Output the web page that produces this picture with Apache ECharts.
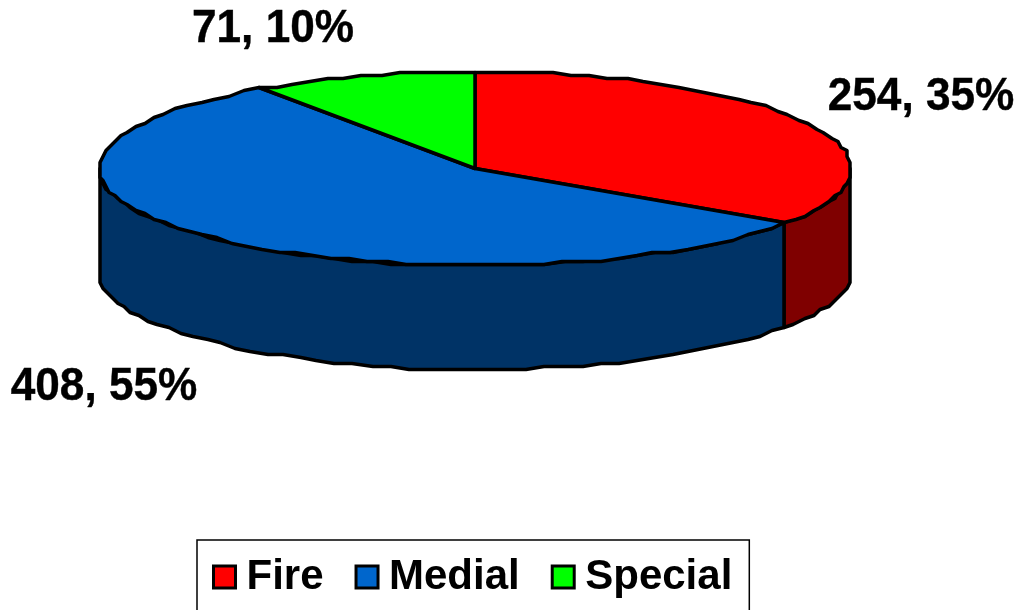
<!DOCTYPE html>
<html>
<head>
<meta charset="utf-8">
<title>Fire Medial Special</title>
<script src="https://cdn.jsdelivr.net/npm/echarts@6/dist/echarts.min.js"></script>
<style>
html, body { margin: 0; padding: 0; background: #fff; }
#chart { width: 1023px; height: 610px; }
</style>
</head>
<body>
<div id="chart"></div>
<script>
const categories = ['Fire', 'Medial', 'Special']
const counts = [254, 408, 71]
const percents = [35, 55, 10]
const topColors = ['#ff0000', '#0066cc', '#00ff00']
const sideColors = ['#7f0000', '#003366', '#007f00']

const total = counts.reduce((a, b) => a + b, 0)

// pie is squashed into an ellipse, angle 0 is 12 o'clock, going clockwise
const cx = 475
const cy = 168.5
const rx = 376
const ry = 97
const depth = 104
const labelPos = [[921, 97], [104, 387], [273, 29]]

const point = (deg, dy = 0) => {
  const a = deg * Math.PI / 180
  // rounding gives the slightly stepped outline of the original
  return [
    cx + Math.round(rx * Math.sin(a) / 3) * 3,
    cy + Math.round((dy - ry * Math.cos(a)) / 3) * 3
  ]
}

const arc = (from, to, dy) => {
  const pts = []
  const n = Math.max(2, Math.ceil((to - from) / 3))
  for (let i = 0; i <= n; i++) {
    pts.push(point(from + (to - from) * i / n, dy))
  }
  return pts
}

const outline = { stroke: '#000', lineWidth: 3.5, lineJoin: 'round' }

const renderSlice = (index) => () => {
  const before = counts.slice(0, index).reduce((a, b) => a + b, 0)
  const from = before / total * 360
  const to = (before + counts[index]) / total * 360
  const children = []

  // wall, only the front half of the rim shows (90deg to 270deg)
  const wallFrom = Math.max(from, 90)
  const wallTo = Math.min(to, 270)
  if (wallFrom < wallTo) {
    const upper = arc(wallFrom, wallTo, 0)
    const lower = arc(wallFrom, wallTo, depth).reverse()
    children.push({
      type: 'polygon',
      shape: { points: upper.concat(lower) },
      style: { fill: sideColors[index], ...outline }
    })
  }

  children.push({
    type: 'polygon',
    shape: { points: [[cx, cy]].concat(arc(from, to, 0)) },
    style: { fill: topColors[index], ...outline }
  })

  children.push({
    type: 'text',
    x: labelPos[index][0],
    y: labelPos[index][1],
    scaleX: 0.96,
    style: {
      text: counts[index] + ', ' + percents[index] + '%',
      fill: '#000',
      stroke: '#000',
      lineWidth: 0.4,
      font: 'bold 46px "Liberation Sans", Arial, sans-serif',
      align: 'center',
      verticalAlign: 'middle'
    }
  })

  return { type: 'group', children }
}

const chart = echarts.init(document.getElementById('chart'), null, { renderer: 'canvas' })

chart.setOption({
  animation: false,
  backgroundColor: '#fff',
  legend: {
    left: 197,
    top: 540,
    icon: 'rect',
    itemWidth: 22,
    itemHeight: 22,
    itemGap: 31,
    padding: [16, 17, 60, 15],
    borderColor: '#000',
    borderWidth: 1.5,
    itemStyle: { borderColor: '#000', borderWidth: 3 },
    textStyle: {
      color: '#000',
      fontFamily: '"Liberation Sans", Arial, sans-serif',
      fontWeight: 'bold',
      fontSize: 42,
      padding: [0, 0, 0, 6]
    },
    data: categories
  },
  // later series sit on top, so Medial's wall covers the seam with Fire
  series: categories.map((name, i) => ({
    type: 'custom',
    name,
    coordinateSystem: 'none',
    itemStyle: { color: topColors[i] },
    data: [counts[i]],
    renderItem: renderSlice(i),
    silent: true
  }))
})

window.addEventListener('resize', () => chart.resize())
</script>
</body>
</html>
